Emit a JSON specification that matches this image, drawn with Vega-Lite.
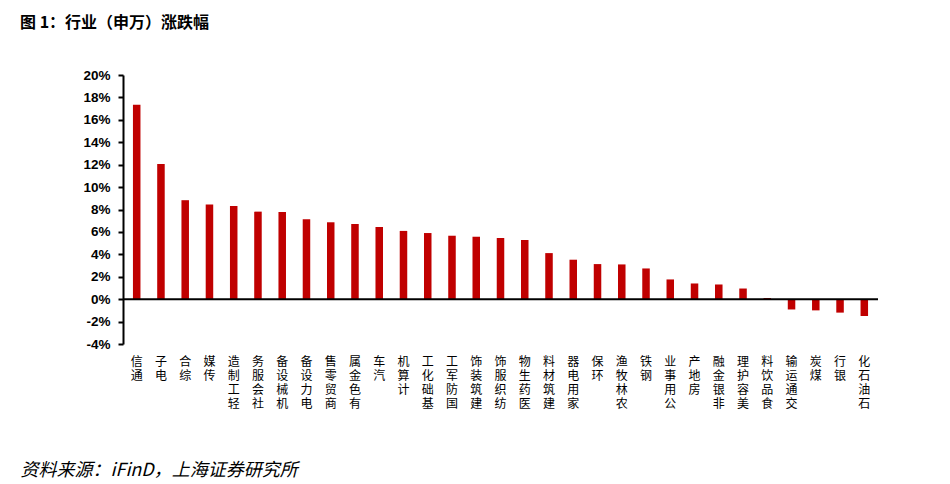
{
  "$schema": "https://vega.github.io/schema/vega-lite/v6.json",
  "autosize": "none",
  "width": 755,
  "height": 269,
  "padding": {"left": 123, "top": 75, "right": 72, "bottom": 140},
  "background": "white",
  "config": {"view": {"stroke": null}, "font": "Noto Sans CJK SC"},
  "title": {
    "text": "图 1：行业（申万）涨跌幅",
    "anchor": "start",
    "frame": "group",
    "dx": -103,
    "offset": 37,
    "font": "Noto Sans CJK SC",
    "fontSize": 16,
    "fontWeight": "bold",
    "color": "#000000"
  },
  "data": {
    "values": [
      {"industry": "通信", "change": 0.1735},
      {"industry": "电子", "change": 0.1207},
      {"industry": "综合", "change": 0.0883},
      {"industry": "传媒", "change": 0.0844},
      {"industry": "轻工制造", "change": 0.0832},
      {"industry": "社会服务", "change": 0.0781},
      {"industry": "机械设备", "change": 0.0778},
      {"industry": "电力设备", "change": 0.0713},
      {"industry": "商贸零售", "change": 0.0686},
      {"industry": "有色金属", "change": 0.0671},
      {"industry": "汽车", "change": 0.0644},
      {"industry": "计算机", "change": 0.0609},
      {"industry": "基础化工", "change": 0.0590},
      {"industry": "国防军工", "change": 0.0566},
      {"industry": "建筑装饰", "change": 0.0557},
      {"industry": "纺织服饰", "change": 0.0546},
      {"industry": "医药生物", "change": 0.0528},
      {"industry": "建筑材料", "change": 0.0411},
      {"industry": "家用电器", "change": 0.0352},
      {"industry": "环保", "change": 0.0313},
      {"industry": "农林牧渔", "change": 0.0310},
      {"industry": "钢铁", "change": 0.0274},
      {"industry": "公用事业", "change": 0.0176},
      {"industry": "房地产", "change": 0.0140},
      {"industry": "非银金融", "change": 0.0131},
      {"industry": "美容护理", "change": 0.0095},
      {"industry": "食品饮料", "change": 0.0010},
      {"industry": "交通运输", "change": -0.0092},
      {"industry": "煤炭", "change": -0.0100},
      {"industry": "银行", "change": -0.0120},
      {"industry": "石油石化", "change": -0.0150}
    ]
  },
  "resolve": {"axis": {"y": "independent"}},
  "layer": [
    {
      "mark": {"type": "bar", "color": "#C00000"},
      "encoding": {
        "x": {
          "field": "industry",
          "type": "nominal",
          "sort": null,
          "scale": {"paddingInner": 0.69, "paddingOuter": 0.41},
          "axis": {
            "title": "资料来源：iFinD，上海证券研究所",
            "titleFont": "Noto Sans CJK SC",
            "titleFontStyle": "italic",
            "titleFontWeight": "normal",
            "titleFontSize": 18,
            "titleColor": "#000000",
            "titleAnchor": "start",
            "titleAlign": "left",
            "titleBaseline": "alphabetic",
            "titleX": -103,
            "titleY": 131,
            "domain": false,
            "ticks": false,
            "labelAngle": 0,
            "labelOverlap": false,
            "labelExpr": "reverse(split(datum.label, ''))",
            "labelFont": "Noto Sans CJK SC",
            "labelFontSize": 12,
            "labelLineHeight": 14,
            "labelColor": "#000000",
            "labelBaseline": "top",
            "labelPadding": 12
          }
        },
        "y": {
          "field": "change",
          "type": "quantitative",
          "scale": {"domain": [-0.04, 0.2], "nice": false, "zero": false},
          "axis": {
            "title": null,
            "values": [-0.04, -0.02, 0, 0.02, 0.04, 0.06, 0.08, 0.1, 0.12, 0.14, 0.16, 0.18, 0.2],
            "labelOverlap": false,
            "format": ".0%",
            "labelExpr": "replace(datum.label, '−', '-')",
            "grid": false,
            "domainColor": "#000000",
            "domainWidth": 2,
            "tickColor": "#000000",
            "tickWidth": 2,
            "tickSize": 5,
            "labelFont": "Liberation Sans",
            "labelFontSize": 13.5,
            "labelFontWeight": "bold",
            "labelColor": "#000000",
            "labelPadding": 8
          }
        }
      }
    },
    {
      "data": {"values": [{"zero": 0}]},
      "mark": {"type": "rule", "color": "#000000", "strokeWidth": 2},
      "encoding": {"y": {"field": "zero", "type": "quantitative", "axis": null}}
    }
  ]
}
